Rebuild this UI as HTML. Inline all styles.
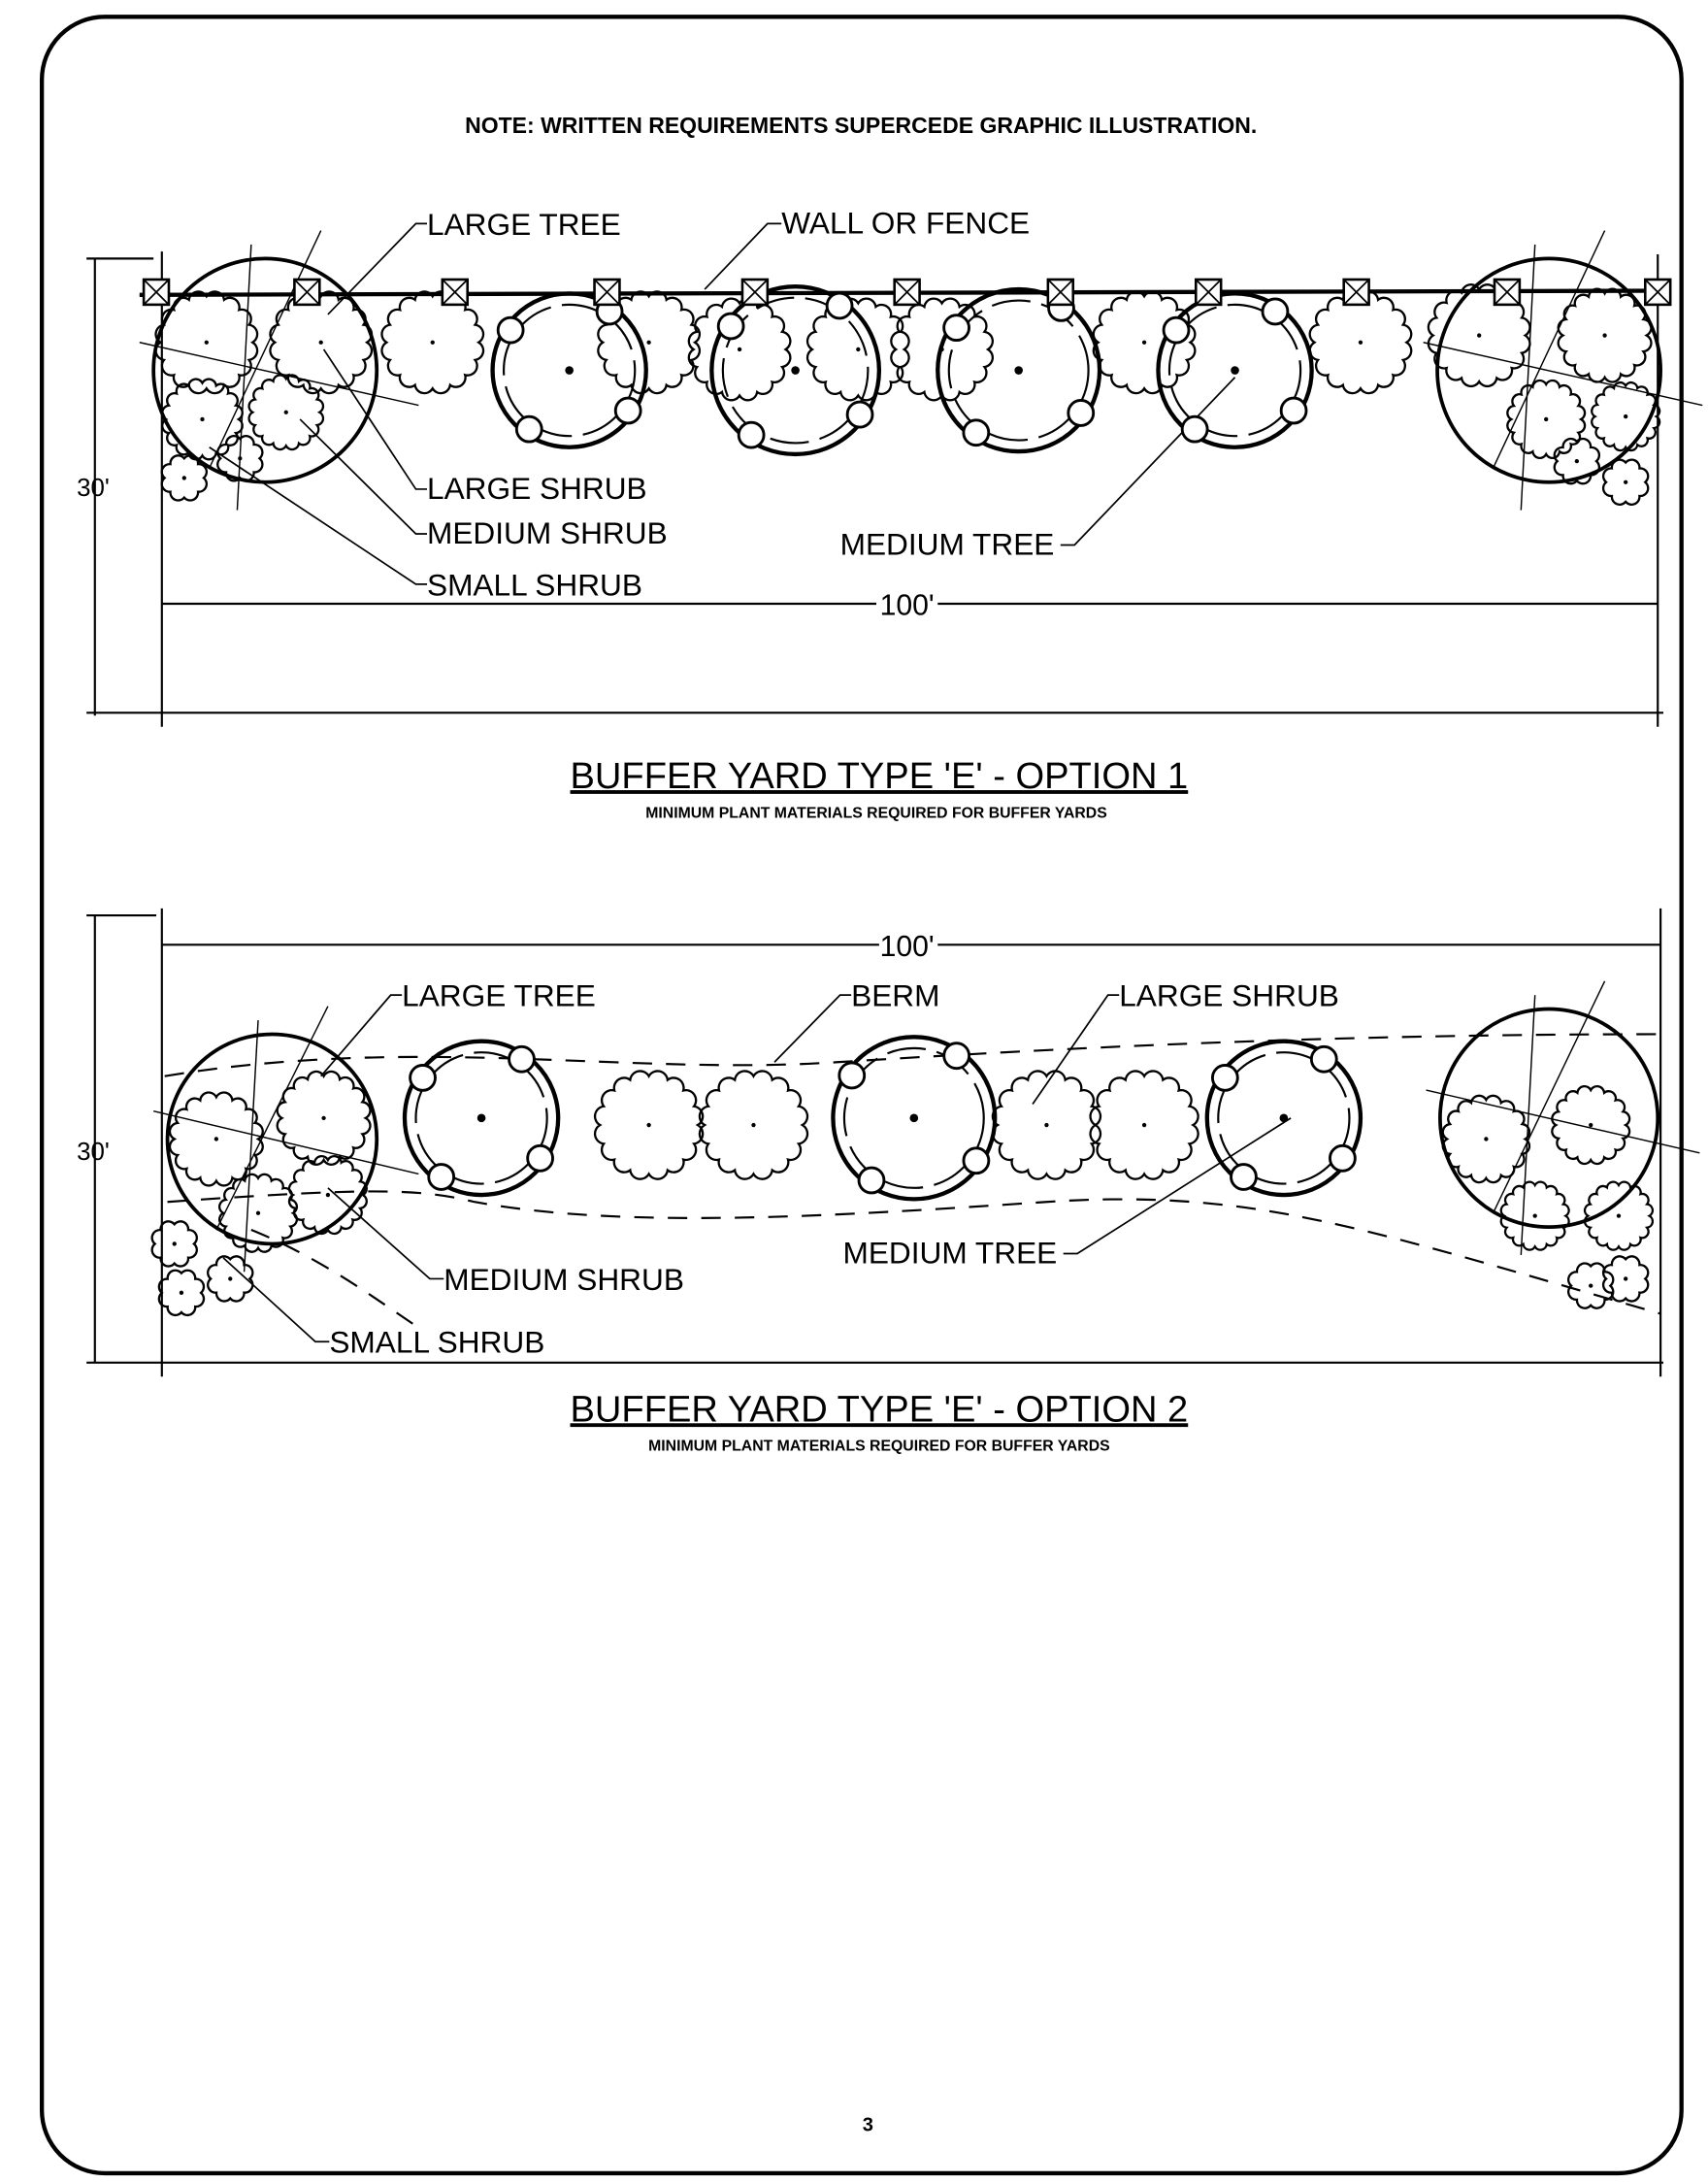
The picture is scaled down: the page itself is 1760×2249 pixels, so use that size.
<!DOCTYPE html>
<html><head><meta charset="utf-8"><style>
html,body{margin:0;padding:0;background:#fff}
svg{display:block}
text{font-family:"Liberation Sans",Arial,sans-serif;fill:#000}
</style></head><body>
<svg id="s" width="1760" height="2249" viewBox="0 0 1224 1562" preserveAspectRatio="none" xmlns="http://www.w3.org/2000/svg">
<rect x="30" y="12" width="1175" height="1543" rx="45" fill="none" stroke="#000" stroke-width="3"/>
<text x="617" y="95" font-size="16" font-weight="bold" text-anchor="middle">NOTE:  WRITTEN REQUIREMENTS SUPERCEDE GRAPHIC ILLUSTRATION.</text>

<g id="g1" fill="none" stroke="#000" stroke-width="1.5">
<line x1="68" y1="185" x2="68" y2="512"/>
<line x1="62" y1="185" x2="110" y2="185"/>
<line x1="116" y1="180" x2="116" y2="520"/>
<line x1="1188" y1="182" x2="1188" y2="520"/>
<line x1="62" y1="510" x2="1192" y2="510"/>
<line x1="116" y1="432" x2="628" y2="432"/>
<line x1="672" y1="432" x2="1188" y2="432"/>
<line x1="100" y1="211" x2="1195" y2="208" stroke-width="3"/>
</g>
<text x="55" y="355" font-size="18">30'</text>
<text x="650" y="440" font-size="21" text-anchor="middle">100'</text>
<text x="306" y="168" font-size="22">LARGE TREE</text>
<text x="560" y="167" font-size="22">WALL OR FENCE</text>
<text x="306" y="357" font-size="22">LARGE SHRUB</text>
<text x="306" y="389" font-size="22">MEDIUM SHRUB</text>
<text x="306" y="426" font-size="22">SMALL SHRUB</text>
<text x="602" y="397" font-size="22">MEDIUM TREE</text>
<g fill="none" stroke="#000" stroke-width="1.2">
<polyline points="306,160 298,160 235,225"/>
<polyline points="560,160 550,160 505,207"/>
<polyline points="306,350 298,350 232,250"/>
<polyline points="306,382 298,382 215,300"/>
<polyline points="306,418 298,418 150,320"/>
<polyline points="760,390 770,390 885,270"/>
</g>
<text x="630" y="564" font-size="26.5" text-anchor="middle" text-decoration="underline">BUFFER YARD TYPE 'E' - OPTION 1</text>
<text x="628" y="585" font-size="11" font-weight="bold" text-anchor="middle">MINIMUM PLANT MATERIALS REQUIRED FOR BUFFER YARDS</text>

<g fill="none" stroke="#000" stroke-width="1.5">
<line x1="68" y1="655" x2="68" y2="975"/>
<line x1="62" y1="655" x2="112" y2="655"/>
<line x1="116" y1="650" x2="116" y2="985"/>
<line x1="1190" y1="650" x2="1190" y2="985"/>
<line x1="116" y1="676" x2="630" y2="676"/>
<line x1="672" y1="676" x2="1190" y2="676"/>
<line x1="62" y1="975" x2="1192" y2="975"/>
<path d="M118,770 C300,740 450,770 600,760 C760,750 950,740 1190,740" stroke-dasharray="14 10"/>
<path d="M120,860 C260,850 300,850 340,860 C450,880 600,870 750,860 C900,850 980,880 1190,940" stroke-dasharray="14 10"/>
<path d="M180,880 C230,900 270,930 300,950" stroke-dasharray="14 10"/>
</g>
<text x="55" y="830" font-size="18">30'</text>
<text x="650" y="684" font-size="21" text-anchor="middle">100'</text>
<text x="288" y="720" font-size="22">LARGE TREE</text>
<text x="610" y="720" font-size="22">BERM</text>
<text x="802" y="720" font-size="22">LARGE SHRUB</text>
<text x="318" y="923" font-size="22">MEDIUM SHRUB</text>
<text x="604" y="904" font-size="22">MEDIUM TREE</text>
<text x="236" y="968" font-size="22">SMALL SHRUB</text>
<g fill="none" stroke="#000" stroke-width="1.2">
<polyline points="288,712 280,712 230,770"/>
<polyline points="610,712 602,712 555,760"/>
<polyline points="802,712 794,712 740,790"/>
<polyline points="318,915 308,915 235,850"/>
<polyline points="762,897 772,897 925,800"/>
<polyline points="236,960 226,960 160,900"/>
</g>
<text x="630" y="1017" font-size="26.5" text-anchor="middle" text-decoration="underline">BUFFER YARD TYPE 'E' - OPTION 2</text>
<text x="630" y="1038" font-size="11" font-weight="bold" text-anchor="middle">MINIMUM PLANT MATERIALS REQUIRED FOR BUFFER YARDS</text>

<text x="622" y="1525" font-size="14" font-weight="bold" text-anchor="middle">3</text>
<g id="dyn"></g>
</svg>
<script>
(function(){
var g=document.getElementById('dyn'),NS='http://www.w3.org/2000/svg';
function el(t,a){var e=document.createElementNS(NS,t);for(var k in a)e.setAttribute(k,a[k]);g.appendChild(e);return e;}
function scal(cx,cy,r,n){var d='';for(var i=0;i<n;i++){var a1=i/n*2*Math.PI,a2=(i+1)/n*2*Math.PI;var x1=cx+r*Math.cos(a1),y1=cy+r*Math.sin(a1),x2=cx+r*Math.cos(a2),y2=cy+r*Math.sin(a2);var s=r*Math.sin(Math.PI/n)*1.05;d+=(i?'L':'M')+x1.toFixed(1)+','+y1.toFixed(1)+'A'+s.toFixed(1)+','+s.toFixed(1)+' 0 0 1 '+x2.toFixed(1)+','+y2.toFixed(1);}
el('path',{d:d+'Z',fill:'none',stroke:'#000','stroke-width':1.6});el('circle',{cx:cx,cy:cy,r:1.5,fill:'#000'});}
function shrub(cx,cy,r){scal(cx,cy,r,16);}
function small(cx,cy){scal(cx,cy,14,8);}
function med(cx,cy,r){el('circle',{cx:cx,cy:cy,r:r,fill:'none',stroke:'#000','stroke-width':3});el('circle',{cx:cx,cy:cy,r:r-8,fill:'none',stroke:'#000','stroke-width':1.5,'stroke-dasharray':'28 8'});for(var i=0;i<4;i++){var a=i*Math.PI/2+0.6;el('circle',{cx:cx+(r-4)*Math.cos(a),cy:cy+(r-4)*Math.sin(a),r:9,fill:'#fff',stroke:'#000','stroke-width':2});}el('circle',{cx:cx,cy:cy,r:3,fill:'#000'});}
function large(cx,cy,r){el('circle',{cx:cx,cy:cy,r:r,fill:'none',stroke:'#000','stroke-width':2.6});[[-10,-r-10,-20,r+20],[-r-10,-20,r+30,25],[-40,r-10,40,-r-20]].forEach(function(p){el('line',{x1:cx+p[0],y1:cy+p[1],x2:cx+p[2],y2:cy+p[3],stroke:'#000','stroke-width':1});});}
large(190,265,80);large(1110,265,80);
shrub(148,245,33);shrub(230,245,33);shrub(145,300,26);shrub(205,295,24);small(132,342);small(172,328);
shrub(1060,240,33);shrub(1150,240,30);shrub(1108,300,25);shrub(1165,298,22);small(1165,345);small(1130,330);
[[310,245],[465,245],[530,250],[615,250],[675,250],[820,245],[975,245]].forEach(function(p){shrub(p[0],p[1],33);});
med(408,265,55);med(570,265,60);med(730,265,58);med(885,265,55);
var px=[112,220,326,435,541,650,760,866,972,1080,1188];
px.forEach(function(x){el('rect',{x:x-9,y:200,width:18,height:18,fill:'#fff',stroke:'#000','stroke-width':1.8});el('path',{d:'M'+(x-9)+',200L'+(x+9)+',218M'+(x+9)+',200L'+(x-9)+',218',stroke:'#000','stroke-width':1.2});});
large(195,815,75);large(1110,800,78);
shrub(155,815,30);shrub(232,800,30);shrub(185,868,25);shrub(235,855,25);small(130,925);small(165,915);small(125,890);
shrub(1065,815,28);shrub(1140,805,25);shrub(1100,870,22);shrub(1160,870,22);small(1140,920);small(1165,915);
[[465,805],[540,805],[750,805],[820,805]].forEach(function(p){shrub(p[0],p[1],35);});
med(345,800,55);med(655,800,58);med(920,800,55);
})();
</script>
</body></html>
